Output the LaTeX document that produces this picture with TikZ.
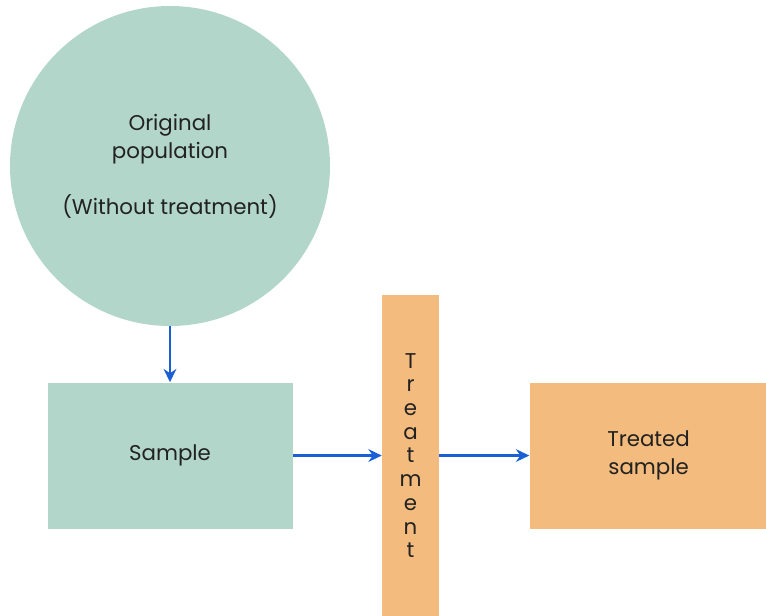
\documentclass[tikz,border=0pt]{standalone}
\usepackage{fontspec}
\setmainfont{Poppins}
\usetikzlibrary{arrows.meta,positioning}
\definecolor{sagegreen}{HTML}{B2D7CA}
\definecolor{peach}{HTML}{F3BB7E}
\definecolor{flowblue}{HTML}{1A5FD6}
\definecolor{inkdark}{HTML}{222222}
\tikzset{
  popcircle/.style = {circle, fill=sagegreen, draw=none, text=inkdark, align=center,
                      inner sep=0pt, minimum size=240pt, font=\fontsize{16}{21}\selectfont},
  greenbox/.style  = {fill=sagegreen, draw=none, text=inkdark, align=center,
                      inner sep=0pt, minimum width=183.75pt, minimum height=109.5pt,
                      font=\fontsize{16}{21}\selectfont},
  peachbox/.style  = {fill=peach, draw=none, text=inkdark, align=center,
                      inner sep=0pt, minimum width=178.5pt, minimum height=109.5pt,
                      font=\fontsize{16}{21}\selectfont},
  peachbar/.style  = {fill=peach, draw=none, text=inkdark, align=center,
                      inner sep=0pt, minimum width=42.75pt, minimum height=241.5pt,
                      font=\fontsize{16}{17.8}\selectfont},
  flow/.style      = {-{Stealth[length=10pt,width=9.5pt]}, draw=flowblue, line width=1.8pt},
}
\begin{document}
\begin{tikzpicture}[x=0.75pt,y=0.75pt]
    \useasboundingbox (0,0) rectangle (766,-615);
    \node[popcircle] (pop) at (170,-166) {Original\\population\\[21pt](Without treatment)};
    \node[greenbox,below=42pt of pop] (s) {Sample};
    \node[peachbar,right=66.75pt of s] (t) {T\\r\\e\\a\\t\\m\\e\\n\\t};
    \node[peachbox,right=67.5pt of t] (ts) {Treated\\sample};
    \draw[flow] (pop) -- (s); \draw[flow] (s) -- (t); \draw[flow] (t) -- (ts);
  \end{tikzpicture}
\end{document}
